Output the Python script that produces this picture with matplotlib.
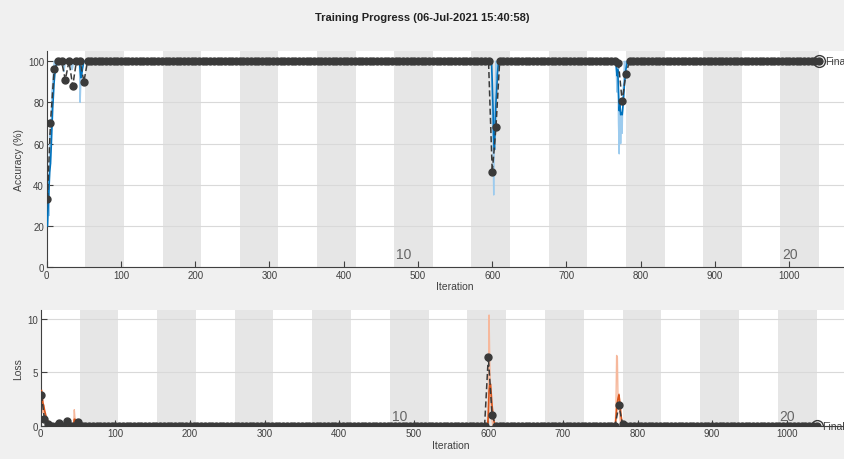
import numpy as np
import matplotlib.pyplot as plt

plt.rcParams["font.family"] = ["Liberation Sans", "DejaVu Sans"]

title = "Training Progress (06-Jul-2021 15:40:58)"
n_epochs = 20
iters_per_epoch = 52
n_iter = n_epochs * iters_per_epoch

# training accuracy: 100 % everywhere except at these iterations
acc_raw_iters = [1, 2, 3, 4, 5, 6, 7, 8, 9, 10, 11, 12, 13,
                 23, 24, 34, 35, 45, 46, 47,
                 600, 601, 602, 603, 604, 605, 606,
                 767, 768, 769, 770, 771, 772, 773, 774, 775, 776, 777, 779]
acc_raw_vals = [20, 45, 25, 65, 50, 70, 85, 90, 95, 100, 100, 95, 100,
                95, 97, 96, 97, 80, 90, 97,
                75, 60, 35, 70, 85, 100, 92,
                95, 85, 100, 70, 55, 80, 60, 75, 65, 85, 90, 95]

acc_smooth_iters = [1, 2, 3, 4, 5, 6, 7, 8, 9, 10, 11, 12, 13, 14,
                    45, 46, 47, 48, 49,
                    599, 600, 601, 602, 603, 604, 605, 606, 607, 608,
                    767, 768, 769, 770, 771, 772, 773, 774, 775, 776, 777, 778, 779, 780, 781]
acc_smooth_vals = [20, 30, 38, 46, 50, 58, 68, 77, 84, 90, 94, 96, 98, 99,
                   96, 92, 93, 96, 98,
                   100, 90, 78, 62, 57, 68, 80, 86, 94, 98,
                   98, 93, 96, 86, 76, 79, 74, 75, 74, 78, 83, 89, 92, 96, 98]

# validation accuracy, checked at iteration 1 and every 5 iterations
val_acc_iters = [1, 5, 10, 25, 35, 50, 600, 605, 770, 775, 780]
val_acc_vals = [33, 70, 96, 91, 88, 90, 46, 68, 99, 80.5, 94]

# training loss: ~0.01 everywhere except at these iterations
loss_raw_iters = [1, 2, 3, 4, 5, 6, 7, 8, 9, 10, 11, 12, 13, 14, 15,
                  24, 34, 45, 46, 47,
                  600, 601, 602, 603, 604, 605,
                  771, 772, 773, 774, 775, 776, 777]
loss_raw_vals = [3.3, 2.0, 1.2, 1.6, 0.9, 0.7, 0.5, 0.4, 0.3, 0.2, 0.15, 0.1, 0.08, 0.05, 0.04,
                 0.3, 0.4, 1.5, 0.6, 0.2,
                 2.0, 10.4, 6.0, 3.0, 1.5, 0.5,
                 1.5, 6.6, 6.4, 2.0, 3.0, 1.0, 0.3]

loss_smooth_iters = [1, 2, 3, 4, 5, 6, 7, 8, 9, 10, 11, 12, 13, 14, 15, 16,
                     45, 46, 47, 48, 49,
                     600, 601, 602, 603, 604, 605, 606, 607, 608,
                     771, 772, 773, 774, 775, 776, 777, 778, 779, 780]
loss_smooth_vals = [3.3, 2.8, 2.1, 1.9, 1.5, 1.2, 0.9, 0.7, 0.5, 0.4, 0.3, 0.2, 0.15, 0.1, 0.07, 0.05,
                    0.6, 0.6, 0.4, 0.2, 0.1,
                    0.9, 3.2, 3.8, 3.9, 2.9, 1.9, 1.2, 0.6, 0.3,
                    0.6, 1.5, 2.2, 2.6, 2.9, 2.4, 1.6, 0.9, 0.4, 0.1]

val_loss_iters = [1, 5, 10, 25, 35, 50, 600, 605, 775, 780]
val_loss_vals = [2.9, 0.6, 0.2, 0.3, 0.45, 0.35, 6.5, 1.0, 1.9, 0.15]

epoch_labels = ["10", "20"]
epoch_label_iters = [481, 1001]

iters = np.arange(1, n_iter + 1)
val_iters = np.array([1] + list(range(5, n_iter + 1, 5)))


def fill_series(xs, base, idx, vals):
    y = np.full(len(xs), float(base))
    pos = {int(v): i for i, v in enumerate(xs)}
    for k, v in zip(idx, vals):
        y[pos[k]] = v
    return y


acc_raw = fill_series(iters, 100, acc_raw_iters, acc_raw_vals)
acc_smooth = fill_series(iters, 100, acc_smooth_iters, acc_smooth_vals)
val_acc = fill_series(val_iters, 100, val_acc_iters, val_acc_vals)
loss_raw = fill_series(iters, 0.01, loss_raw_iters, loss_raw_vals)
loss_smooth = fill_series(iters, 0.01, loss_smooth_iters, loss_smooth_vals)
val_loss = fill_series(val_iters, 0.01, val_loss_iters, val_loss_vals)

bg = "#f0f0f0"
band = "#e6e6e6"
txt = "#404040"
dark = "#3a3a3a"

fig = plt.figure(figsize=(8.45, 4.6), dpi=100, facecolor=bg)
fig.text(0.4995, 0.961, title, ha="center", va="center", fontsize=8, fontweight="bold", color="#222222")

ax1 = fig.add_axes([0.0553, 0.4174, 0.9666, 0.4696])
ax2 = fig.add_axes([0.0482, 0.0724, 0.9711, 0.2522])

panels = [
    (ax1, acc_raw, acc_smooth, val_acc, "#9ccbee", "#0072bd", (0, 105), np.arange(0, 101, 20), "Accuracy (%)", 3),
    (ax2, loss_raw, loss_smooth, val_loss, "#f6b89c", "#d95319", (0, 10.9), [0, 5, 10], "Loss", 0.3),
]

for ax, raw, smooth, val, c_raw, c_smooth, ylim, yt, ylab, lab_y in panels:
    ax.set_facecolor("white")
    # shade every other epoch
    for e in range(1, n_epochs, 2):
        ax.axvspan(e * iters_per_epoch, (e + 1) * iters_per_epoch, color=band, lw=0, zorder=0)
    for t in yt:
        ax.axhline(t, color="#d9d9d9", lw=0.8, zorder=0.5)

    ax.plot(iters, raw, color=c_raw, lw=1.0, zorder=2)
    ax.plot(iters, smooth, color=c_smooth, lw=1.2, zorder=3)
    ax.plot(val_iters, val, color=dark, ls="--", lw=1.1, dashes=(4, 2),
            marker="o", ms=5.0, mfc=dark, mec=dark, zorder=4)
    ax.plot([n_iter], [val[-1]], "o", ms=8.5, mfc="none", mec=dark, mew=1.0, zorder=5)
    ax.text(n_iter + 8, val[-1], "Final", fontsize=7.5, color=txt, va="center", ha="left", zorder=5)

    for s, xi in zip(epoch_labels, epoch_label_iters):
        ax.text(xi, lab_y, s, fontsize=10, color="#666666", ha="center", va="bottom", zorder=1)

    ax.set_xlim(0, 1100)
    ax.set_ylim(*ylim)
    ax.set_xticks(np.arange(0, 1001, 100))
    ax.set_yticks(yt)
    ax.tick_params(direction="in", length=4.5, width=0.8, colors=txt, labelsize=7, pad=2)
    for side in ["top", "right"]:
        ax.spines[side].set_visible(False)
    for side in ["left", "bottom"]:
        ax.spines[side].set_color(txt)
        ax.spines[side].set_linewidth(0.8)
    ax.set_xlabel("Iteration", fontsize=7.5, color=txt, labelpad=1)
    ax.set_ylabel(ylab, fontsize=7.5, color=txt, labelpad=3)

fig.savefig("out.png", dpi=100, facecolor=bg)
